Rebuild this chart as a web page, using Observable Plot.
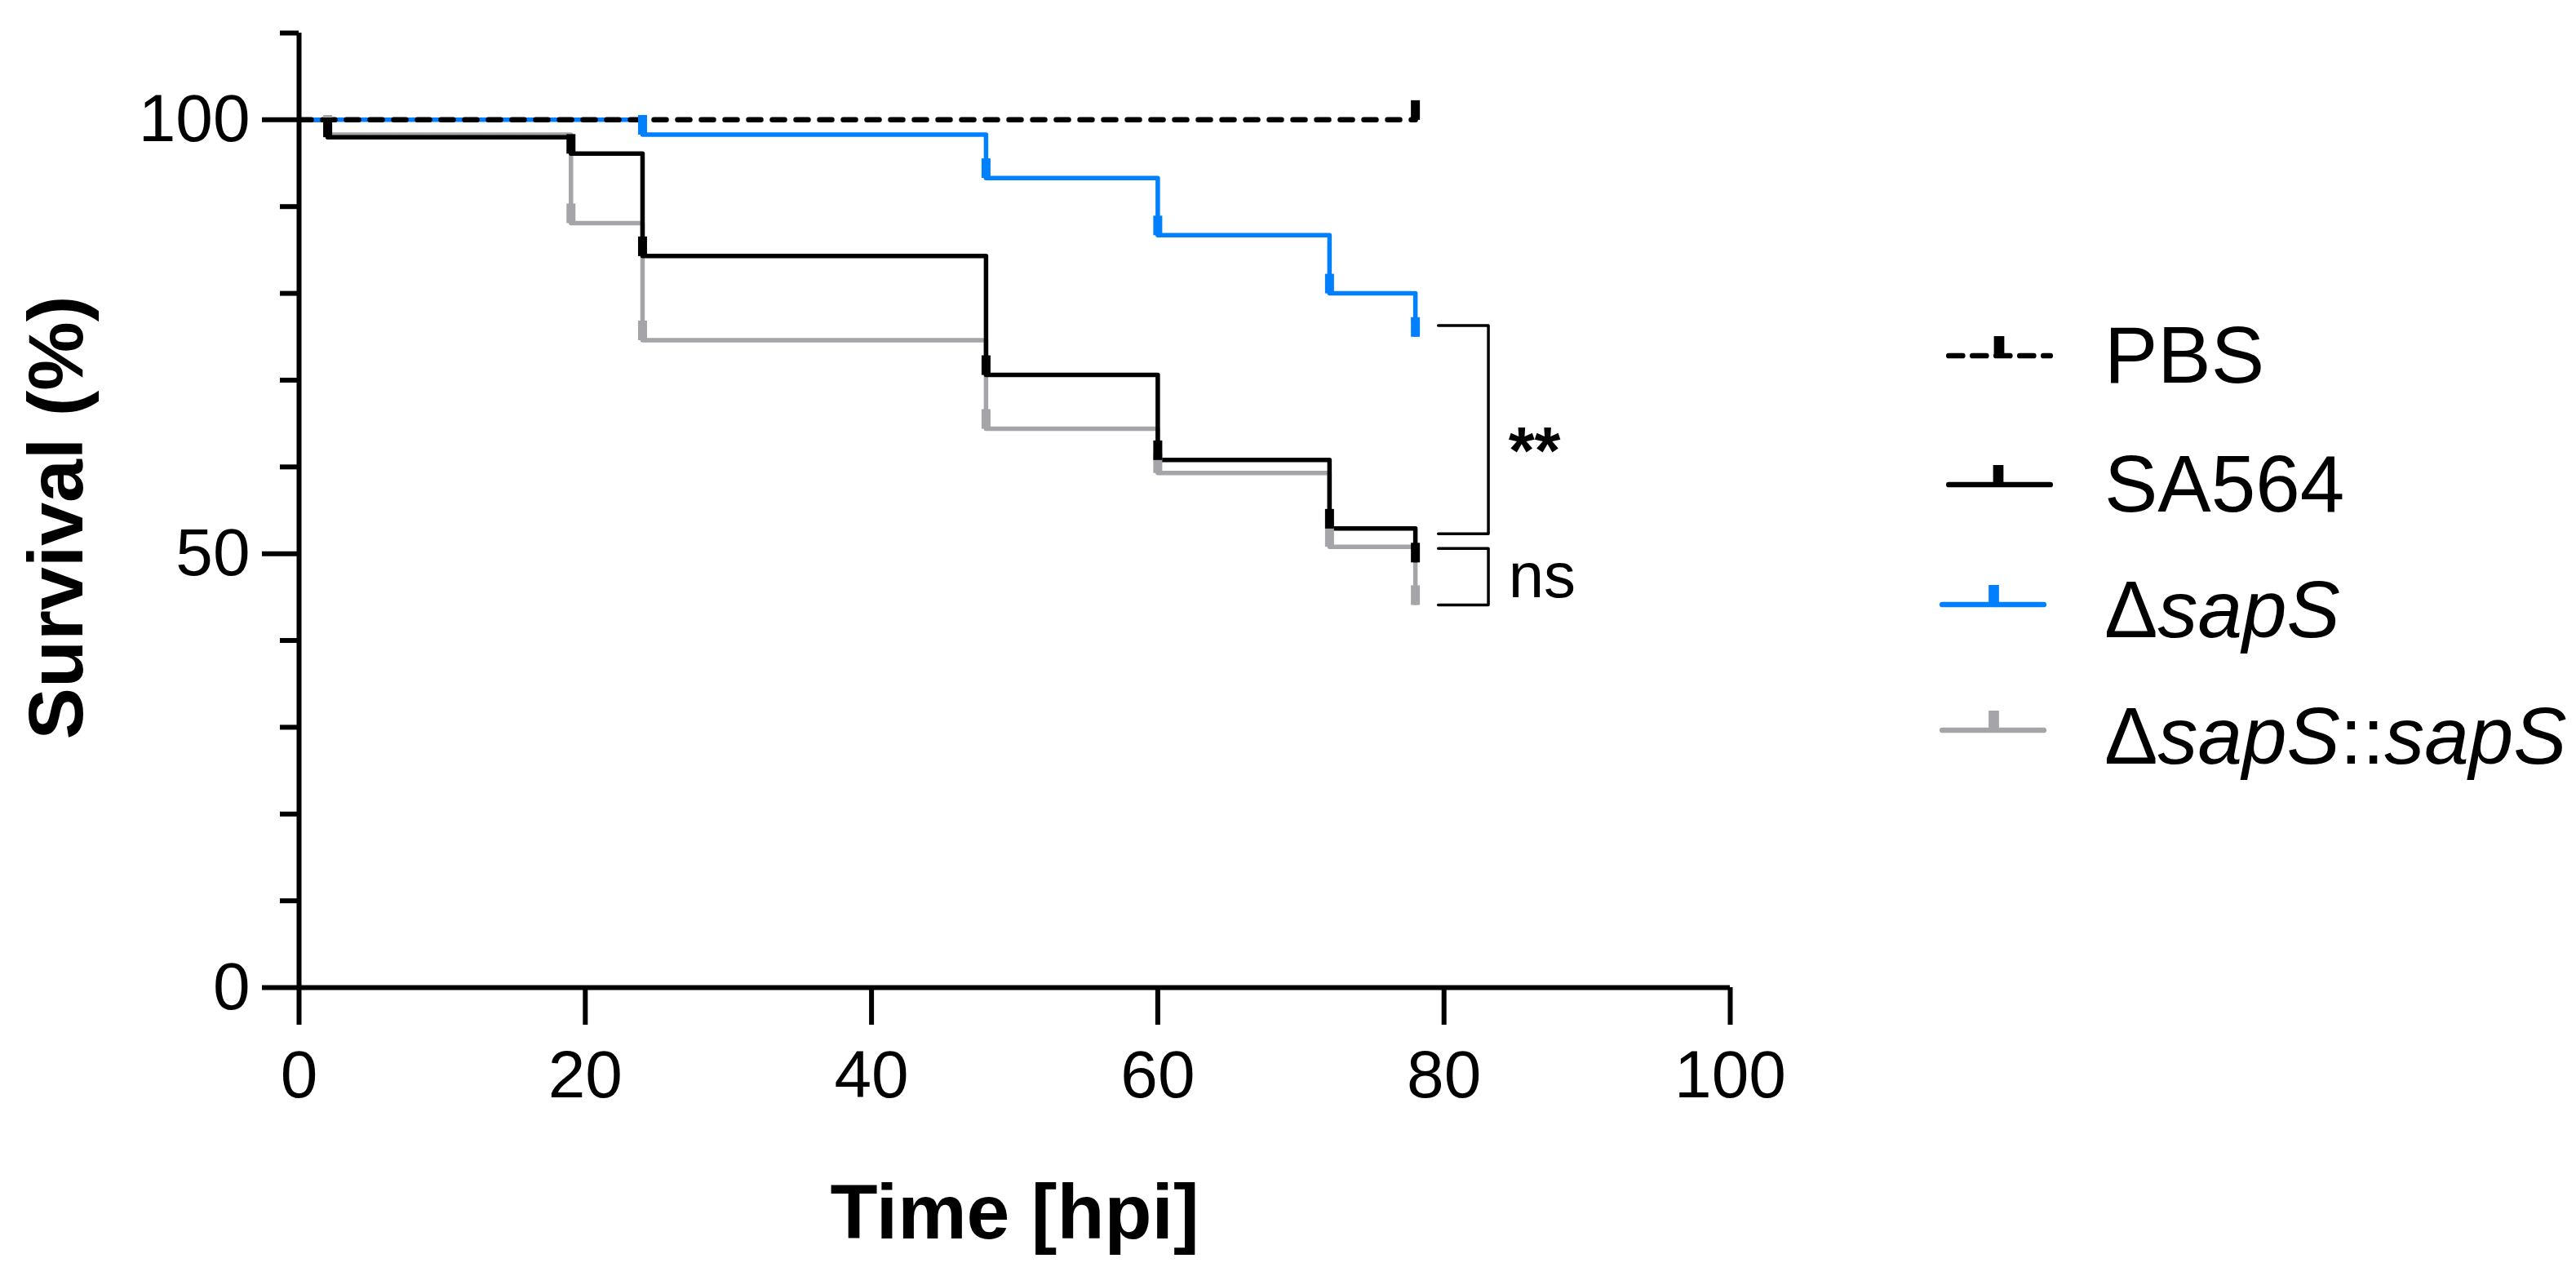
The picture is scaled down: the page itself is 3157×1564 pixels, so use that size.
<!DOCTYPE html>
<html>
<head>
<meta charset="utf-8">
<script src="https://cdn.jsdelivr.net/npm/d3@7"></script>
<script src="https://cdn.jsdelivr.net/npm/@observablehq/plot@0.6"></script>
<style>
  html, body { margin: 0; padding: 0; background: #ffffff; }
  #wrap { position: relative; width: 3157px; height: 1564px; overflow: hidden; background: #ffffff; }
  #legend { position: absolute; left: 2340px; top: 360px; }
</style>
</head>
<body>
<div id="wrap"><div id="chart"></div><div id="legend"></div></div>
<script>
// ---- Data ----
const seriesNames = ["PBS", "SA564", "ΔsapS", "ΔsapS::sapS"];
const seriesColors = ["#000000", "#000000", "#0080ff", "#a5a5a9"];

const pbsTimes = [0, 78];
const pbsSurv = [100, 100];

const sa564Times = [0, 2, 19, 24, 48, 60, 72, 78];
const sa564Surv = [100, 98.0, 96.1, 84.3, 70.6, 60.8, 52.9, 49.0];

const sapSTimes = [0, 24, 48, 60, 72, 78];
const sapSSurv = [100, 98.3, 93.3, 86.7, 80.0, 75.0];

const compTimes = [0, 2, 19, 24, 48, 60, 72, 78];
const compSurv = [100, 98.3, 88.1, 74.6, 64.4, 59.3, 50.8, 44.1];

const xTicks = [0, 20, 40, 60, 80, 100];
const yMajorTicks = [0, 50, 100];
const yMinorTicks = [10, 20, 30, 40, 60, 70, 80, 90, 110];

// significance brackets: top / bottom survival values they span
const bracketLabels = ["**", "ns"];
const bracketTops = [76.3, 50.6];
const bracketBottoms = [52.3, 44.1];
const bracketArmX = 79.6;
const bracketSpineX = 83.1;
const bracketLabelX = 84.5;

// ---- Build tables ----
const timesList = [pbsTimes, sa564Times, sapSTimes, compTimes];
const survList = [pbsSurv, sa564Surv, sapSSurv, compSurv];
const series = seriesNames.map((name, k) => ({
  name, color: seriesColors[k],
  rows: timesList[k].map((t, i) => ({series: name, t, s: survList[k][i]}))
}));

const brackets = bracketLabels.map((label, i) => ({label, top: bracketTops[i], bottom: bracketBottoms[i], mid: (bracketTops[i] + bracketBottoms[i]) / 2}));
const bracketPath = brackets.flatMap((b) => [
  {id: b.label, x: bracketArmX, y: b.top},
  {id: b.label, x: bracketSpineX, y: b.top},
  {id: b.label, x: bracketSpineX, y: b.bottom},
  {id: b.label, x: bracketArmX, y: b.bottom}
]);

const tickUp = { draw(context) { context.moveTo(0, 0); context.lineTo(0, -24); } };

const drawOrder = [3, 1, 2, 0]; // gray, black, blue, PBS
const lineMarks = drawOrder.map((k) => Plot.line(series[k].rows, {
  x: "t", y: "s", curve: "step-after",
  stroke: series[k].color, strokeWidth: k === 0 ? 6.5 : 5.5,
  strokeDasharray: k === 0 ? "15,14" : null,
  strokeLinecap: k === 0 ? "round" : "butt",
  strokeLinejoin: "round"
}));
const tickMarks = drawOrder.map((k) => Plot.dot(series[k].rows.filter((d) => d.t > 0), {
  x: "t", y: "s", symbol: tickUp, fill: "none",
  stroke: series[k].color, strokeWidth: 11, strokeLinecap: "butt"
}));

const font = "'Liberation Sans', Arial, Helvetica, sans-serif";

const chart = Plot.plot({
  width: 3157,
  height: 1564,
  marginLeft: 366,
  marginRight: 1037,
  marginTop: 40,
  marginBottom: 354,
  style: {fontFamily: font, background: "white", color: "black"},
  x: {domain: [0, 100], label: null},
  y: {domain: [0, 110], label: null},
  marks: [
    Plot.axisY({ticks: yMinorTicks, tickSize: 23, tickFormat: () => "", strokeWidth: 6, label: null}),
    Plot.axisY({ticks: yMajorTicks, tickSize: 45, tickPadding: 15, fontSize: 82, strokeWidth: 6, label: null}),
    Plot.axisX({ticks: xTicks, tickSize: 46, tickPadding: 30, fontSize: 82, strokeWidth: 6, label: null}),
    Plot.ruleX([0], {strokeWidth: 6}),
    Plot.ruleY([0], {strokeWidth: 6}),
    ...lineMarks,
    ...tickMarks,
    Plot.line(bracketPath, {x: "x", y: "y", z: "id", stroke: "black", strokeWidth: 3.5, strokeLinejoin: "round"}),
    Plot.text(brackets.filter((b) => b.label === "**"), {x: () => bracketLabelX, y: "mid", text: "label", textAnchor: "start", fontSize: 82, fontWeight: "bold", dy: 27}),
    Plot.text(brackets.filter((b) => b.label === "ns"), {x: () => bracketLabelX, y: "mid", text: "label", textAnchor: "start", fontSize: 78}),
    Plot.text(["Survival (%)"], {frameAnchor: "left", textAnchor: "middle", rotate: -90, dx: -296, dy: 9, fontSize: 95, fontWeight: "bold"}),
    Plot.text(["Time [hpi]"], {frameAnchor: "bottom", lineAnchor: "bottom", dy: 307, fontSize: 95, fontWeight: "bold"})
  ]
});
document.getElementById("chart").appendChild(chart);

// ---- Legend (HTML overlay to the right of the plot) ----
const legendParts = [
  [["PBS", false]],
  [["SA564", false]],
  [["Δ", false], ["sapS", true]],
  [["Δ", false], ["sapS", true], ["::", false], ["sapS", true]]
];
const legendRows = [
  {lineY: 76, x1: 48.3, x2: 172.7, tickX: 110, base: 109},
  {lineY: 234, x1: 48.3, x2: 172.7, tickX: 109, base: 266.7},
  {lineY: 381, x1: 40.3, x2: 164.7, tickX: 103.5, base: 420.7},
  {lineY: 535, x1: 40.3, x2: 164.7, tickX: 103.5, base: 575.7}
];
const lsvg = d3.select("#legend").append("svg")
  .attr("width", 817).attr("height", 640)
  .style("font-family", font);
seriesNames.forEach((name, k) => {
  const r = legendRows[k];
  lsvg.append("line")
    .attr("x1", r.x1).attr("x2", r.x2).attr("y1", r.lineY).attr("y2", r.lineY)
    .attr("stroke", seriesColors[k]).attr("stroke-width", 6.7)
    .attr("stroke-linecap", "round")
    .attr("stroke-dasharray", k === 0 ? "17,12" : null);
  lsvg.append("line")
    .attr("x1", r.tickX).attr("x2", r.tickX).attr("y1", r.lineY).attr("y2", r.lineY - 24)
    .attr("stroke", seriesColors[k]).attr("stroke-width", 12.7)
    .attr("stroke-linecap", "butt");
  const t = lsvg.append("text")
    .attr("x", 239).attr("y", r.base)
    .attr("font-size", 98).attr("fill", "black");
  legendParts[k].forEach(([txt, it]) => {
    t.append("tspan").attr("font-style", it ? "italic" : "normal").text(txt);
  });
});
</script>
</body>
</html>
